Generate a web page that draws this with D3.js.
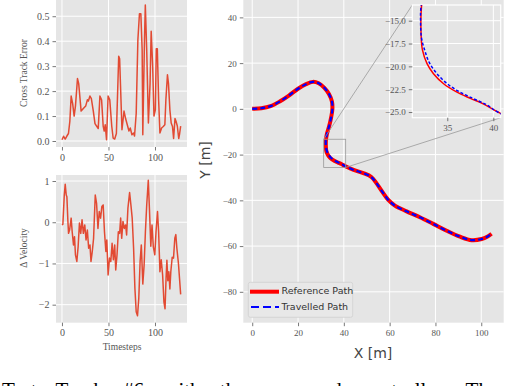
<!DOCTYPE html>
<html><head><meta charset="utf-8">
<script src="https://cdn.jsdelivr.net/npm/d3@7/dist/d3.min.js"></script>
<style>body{margin:0;background:#fff;}svg{display:block;}</style>
</head><body>
<script>
// ---------- DATA ----------
const cteT = [0,1.8,3.5,5.3,7,8.5,9.9,11.5,13.1,14.5,16.7,18,20.6,23,25.5,27.3,28.4,30.1,31.6,33.7,35.5,37.2,39,40.8,42.6,44.3,45.4,46.5,47.9,49.6,51.4,53.5,55,56.7,58.5,61,62,64.5,66.7,68.4,70.2,72,73.4,75.2,77,78,79.8,81.6,83.3,84.8,86.2,86.9,88.7,89.6,91.1,92.9,94.7,95.9,97.5,98.9,100.4,101.4,102.5,103.9,105.3,107.1,108.9,110.6,111.7,113.4,114.5,116,117.4,118.8,120,121.5,122.5,124,125.5,126.5,127.6];
const cteV = [0.005,0.019,0.008,0.02,0.03,0.08,0.18,0.15,0.10,0.14,0.25,0.23,0.12,0.13,0.14,0.165,0.16,0.18,0.17,0.12,0.07,0.06,0.05,0.18,0.165,0.06,0.04,0.065,0.005,0.18,0.165,0.06,0.012,0.008,0.03,0.34,0.33,0.045,0.12,0.09,0.065,0.04,0.052,0.025,0.032,0.02,0.11,0.405,0.51,0.51,0.365,0.025,0.405,0.545,0.365,0.072,0.23,0.44,0.3,0.1,0.125,0.37,0.37,0.165,0.032,0.052,0.058,0.065,0.165,0.265,0.23,0.125,0.072,0.058,0.01,0.09,0.08,0.06,0.01,0.03,0.06];

const dvT = [0,1,2.5,3.5,4.6,5.3,6.4,7.1,8.2,9.9,11,12.4,13.5,14.5,16,17.4,18.8,20.2,21.6,23,24.5,25.9,27.3,28.7,30.1,31.2,32.6,34,35.8,37.2,38.7,40.1,41.5,42.9,44.3,45.7,47.2,48.2,49.6,51.1,52.5,53.9,55.3,56.7,57.8,59.2,60.6,62,63.1,64.2,65.6,67,68.4,69.5,70.9,72.7,74.1,75.5,77,78.4,79.8,81.2,82.6,84,85.3,86.9,88.3,89.7,91.1,92.8,94,95.5,96.8,98.2,99.8,101.1,102.7,103.9,105.3,106.7,108.2,109.6,110.8,111.9,112.8,113.8,114.9,116,117,118.5,119.9,121.3,122.4,123.5,125.2,127.6];
const dvV = [-0.065,-0.05,0.66,0.92,0.66,0.62,0.02,-0.27,-0.19,0.1,-0.23,-0.55,-0.35,-0.79,-0.95,-0.59,-0.02,-0.27,0.06,-0.27,-0.065,-0.43,-0.19,-0.63,-0.55,-0.95,-0.71,-0.39,0.66,0.46,-0.15,0.26,0.1,0.38,0.42,-0.23,-0.71,-0.43,-1.28,-0.87,-0.95,-0.51,-0.91,-0.55,-1.16,-0.79,-0.23,-0.27,0.1,-0.39,0.02,-0.15,-0.065,-0.31,0.34,0.72,0.42,0.1,-0.63,-1.6,-2.17,-2.27,-1.84,-0.95,-0.55,-1.5,-1.04,-0.23,0.42,1.02,0.34,-0.58,-0.065,-0.6,-0.79,-0.23,0.26,-0.23,-1.2,-0.91,-1.28,-1.93,-2.1,-1.36,-0.92,-1.42,-1.2,-1.62,-1.2,-0.85,-0.87,-0.39,-0.3,-0.63,-1.0,-1.75];

const refX = [0,4,8,12,16,20,23.5,26.5,29,31.5,33.5,34.8,35,34.5,33.6,32.6,32.2,32.15,32.3,32.8,33.5,34.6,36,37.5,38.9,40.5,44,48.5,52,54.3,56.9,59.4,62.3,67.4,73.2,79,84.9,90.7,95.8,100.2,102.6,104.5];
const refY = [0,0.3,1.2,3.2,5.8,8.8,10.8,11.8,11.2,9.2,6.5,3.2,0,-3.5,-7.5,-11,-13.4,-16.4,-18.2,-19.7,-20.8,-21.9,-22.8,-23.5,-24.1,-25,-26.6,-28.1,-29.8,-32.6,-36.4,-39.8,-42.3,-44.8,-47.4,-50.3,-53.3,-55.9,-57.4,-56.9,-55.9,-54.6];
const travX = [0,4,8,12,16,20,23.5,26.5,29,31.5,33.5,34.8,35,34.5,33.6,32.6,32.15,32.1,32.2,32.6,33.05,33.8,34.75,36.0,37.55,39.25,40.55,44,48.5,52,54.3,56.9,59.4,62.3,67.4,73.2,79,84.9,90.7,95.8,100.2,102.6,104.5];
const travY = [0,0.3,1.2,3.2,5.8,8.8,10.8,11.8,11.2,9.2,6.5,3.2,0,-3.5,-7.5,-11,-13.4,-15.2,-16.9,-18.4,-19.6,-20.7,-21.7,-22.6,-23.4,-24.2,-25.05,-26.6,-28.1,-29.8,-32.6,-36.4,-39.8,-42.3,-44.8,-47.4,-50.3,-53.3,-55.9,-57.4,-56.9,-55.9,-54.6];

const cteTicksY = [0.0,0.1,0.2,0.3,0.4,0.5];
const dvTicksY = [1,0,-1,-2];
const stepTicks = [0,50,100];
const mainTicksX = [0,20,40,60,80,100];
const mainTicksY = [40,20,0,-20,-40,-60,-80];
const insetTicksX = [35,40];
const insetTicksY = [-15,-17.5,-20,-22.5,-25];
const legendLabels = ["Reference Path","Travelled Path"];

// ---------- DRAW ----------
const W=524,H=386;
const svg=d3.select("body").append("svg").attr("width",W).attr("height",H);
const BG="#E5E5E5", LINE="#E24A33", TC="#555";
const serif="'Liberation Serif','DejaVu Serif',serif";
const sans="'DejaVu Sans',sans-serif";
const fmtMinus = s => String(s).replace("-","\u2212");

function panel(x0,x1,y0,y1){
  svg.append("rect").attr("x",x0).attr("y",y0).attr("width",x1-x0).attr("height",y1-y0).attr("fill",BG);
}
function grid(g,sx,sy,tx,ty){
  const [xa,xb]=sx.range(), [ya,yb]=sy.range();
  tx.forEach(t=>g.append("line").attr("x1",sx(t)).attr("x2",sx(t)).attr("y1",ya).attr("y2",yb).attr("stroke","#fff").attr("stroke-width",1));
  ty.forEach(t=>g.append("line").attr("y1",sy(t)).attr("y2",sy(t)).attr("x1",xa).attr("x2",xb).attr("stroke","#fff").attr("stroke-width",1));
}
function axes(sx,sy,tx,ty,fmtX,fmtY,fs){
  const yb=Math.max(...sy.range()), xl=Math.min(...sx.range());
  const ax=d3.axisBottom(sx).tickValues(tx).tickSize(3.5).tickPadding(3).tickFormat(fmtX);
  const gx=svg.append("g").attr("transform",`translate(0,${yb})`).call(ax);
  const ay=d3.axisLeft(sy).tickValues(ty).tickSize(3.5).tickPadding(3).tickFormat(fmtY);
  const gy=svg.append("g").attr("transform",`translate(${xl},0)`).call(ay);
  [gx,gy].forEach(g=>{g.select(".domain").remove();g.selectAll("line").attr("stroke",TC).attr("stroke-width",0.8);
    g.selectAll("text").attr("fill",TC).attr("font-family",serif).attr("font-size",fs);});
}

// Top-left: cross track error
{
  const sx=d3.scaleLinear().domain([-6.4,134.4]).range([56,187]);
  const sy=d3.scaleLinear().domain([-0.024,0.565]).range([147,0]);
  panel(56,187,0,147);
  grid(svg.append("g"),sx,sy,stepTicks,cteTicksY);
  axes(sx,sy,stepTicks,cteTicksY,d=>d,d=>d.toFixed(1),10);
  const line=d3.line().x((d,i)=>sx(cteT[i])).y(d=>sy(d));
  svg.append("path").attr("d",line(cteV)).attr("fill","none").attr("stroke",LINE).attr("stroke-width",1.5).attr("stroke-linejoin","round");
  svg.append("text").attr("transform","translate(27,73) rotate(-90)").attr("text-anchor","middle").attr("font-family",serif).attr("font-size",9.5).attr("fill",TC).text("Cross Track Error");
}
// Bottom-left: delta velocity
{
  const sx=d3.scaleLinear().domain([-6.4,134.4]).range([56,187]);
  const sy=d3.scaleLinear().domain([-2.437,1.146]).range([322.7,175]);
  panel(56,187,175,322.7);
  grid(svg.append("g"),sx,sy,stepTicks,dvTicksY);
  axes(sx,sy,stepTicks,dvTicksY,d=>d,d=>fmtMinus(d),10);
  const line=d3.line().x((d,i)=>sx(dvT[i])).y(d=>sy(d));
  svg.append("path").attr("d",line(dvV)).attr("fill","none").attr("stroke",LINE).attr("stroke-width",1.5).attr("stroke-linejoin","round");
  svg.append("text").attr("transform","translate(27,248) rotate(-90)").attr("text-anchor","middle").attr("font-family",serif).attr("font-size",9.5).attr("fill",TC).text("\u0394 Velocity");
  svg.append("text").attr("x",122).attr("y",350).attr("text-anchor","middle").attr("font-family",serif).attr("font-size",9.5).attr("fill",TC).text("Timesteps");
}
// Right: path
{
  const sx=d3.scaleLinear().domain([-3.9,109.8]).range([243.3,503.7]);
  const sy=d3.scaleLinear().domain([-93.5,47.6]).range([322.7,0]);
  panel(243.3,503.7,0,322.7);
  grid(svg.append("g"),sx,sy,mainTicksX,mainTicksY);
  axes(sx,sy,mainTicksX,mainTicksY,d=>fmtMinus(d),d=>fmtMinus(d),9);
  const pts=(X,Y)=>X.map((x,i)=>[x,Y[i]]);
  const line=d3.line().x(d=>sx(d[0])).y(d=>sy(d[1])).curve(d3.curveCatmullRom);
  svg.append("path").attr("d",line(pts(refX,refY))).attr("fill","none").attr("stroke","#ff0000").attr("stroke-width",4);
  svg.append("path").attr("d",line(pts(travX,travY))).attr("fill","none").attr("stroke","#0000ff").attr("stroke-width",2.2).attr("stroke-dasharray","5,3");
  svg.append("text").attr("transform","translate(206,160) rotate(-90)").attr("text-anchor","middle").attr("dominant-baseline","middle").attr("font-family",sans).attr("font-size",14).attr("fill","#444").text("Y [m]");
  svg.append("text").attr("x",373).attr("y",358).attr("text-anchor","middle").attr("font-family",sans).attr("font-size",14).attr("fill","#444").text("X [m]");

  // inset
  const ix=d3.scaleLinear().domain([31.2,40.8]).range([412.3,500.7]);
  const iy=d3.scaleLinear().domain([-25.62,-13.28]).range([117.7,5]);
  const rx0=sx(31.2), rx1=sx(40.8), ry0=sy(-13.28), ry1=sy(-25.62);
  const gc="#999";
  svg.append("rect").attr("x",rx0).attr("y",ry0).attr("width",rx1-rx0).attr("height",ry1-ry0).attr("fill","none").attr("stroke",gc).attr("stroke-width",0.8);
  svg.append("line").attr("x1",rx0).attr("y1",ry0).attr("x2",412.3).attr("y2",5).attr("stroke",gc).attr("stroke-width",0.8);
  svg.append("line").attr("x1",rx1).attr("y1",ry1).attr("x2",500.7).attr("y2",117.7).attr("stroke",gc).attr("stroke-width",0.8);
  svg.append("rect").attr("x",412.3).attr("y",5).attr("width",88.4).attr("height",112.7).attr("fill",BG).attr("stroke","#fff").attr("stroke-width",1.2);
  grid(svg.append("g"),ix,iy,insetTicksX,insetTicksY);
  axes(ix,iy,insetTicksX,insetTicksY,d=>d,d=>fmtMinus(d.toFixed(1)),9);
  svg.append("clipPath").attr("id","ic").append("rect").attr("x",412.3).attr("y",5).attr("width",88.4).attr("height",112.7);
  const il=d3.line().x(d=>ix(d[0])).y(d=>iy(d[1])).curve(d3.curveCatmullRom);
  const gi=svg.append("g").attr("clip-path","url(#ic)");
  gi.append("path").attr("d",il(pts(refX,refY))).attr("fill","none").attr("stroke","#ff0000").attr("stroke-width",1.5);
  gi.append("path").attr("d",il(pts(travX,travY))).attr("fill","none").attr("stroke","#0000ff").attr("stroke-width",1.5).attr("stroke-dasharray","3,2");

  // legend
  const lg=svg.append("g");
  lg.append("rect").attr("x",248.3).attr("y",282.3).attr("width",104.4).attr("height",35).attr("rx",2).attr("fill","#e8e8e8").attr("stroke","#d0d0d0").attr("stroke-width",0.8);
  lg.append("line").attr("x1",250).attr("x2",279).attr("y1",291.7).attr("y2",291.7).attr("stroke","#ff0000").attr("stroke-width",4);
  lg.append("line").attr("x1",251).attr("x2",279).attr("y1",307).attr("y2",307).attr("stroke","#0000ff").attr("stroke-width",2.2).attr("stroke-dasharray","8,4");
  legendLabels.forEach((t,i)=>lg.append("text").attr("x",281.5).attr("y",291.7+15.3*i).attr("dominant-baseline","middle").attr("font-family",sans).attr("font-size",9.5).attr("fill","#333").text(t));
}
// caption (cut off by the page bottom, as in the reference)
svg.append("text").attr("x",2).attr("y",397).attr("font-family","'Liberation Serif',serif").attr("font-size",21).attr("fill","#000").attr("word-spacing",14).text("Test Track #6 with the proposed controller. The");
</script>
</body></html>
